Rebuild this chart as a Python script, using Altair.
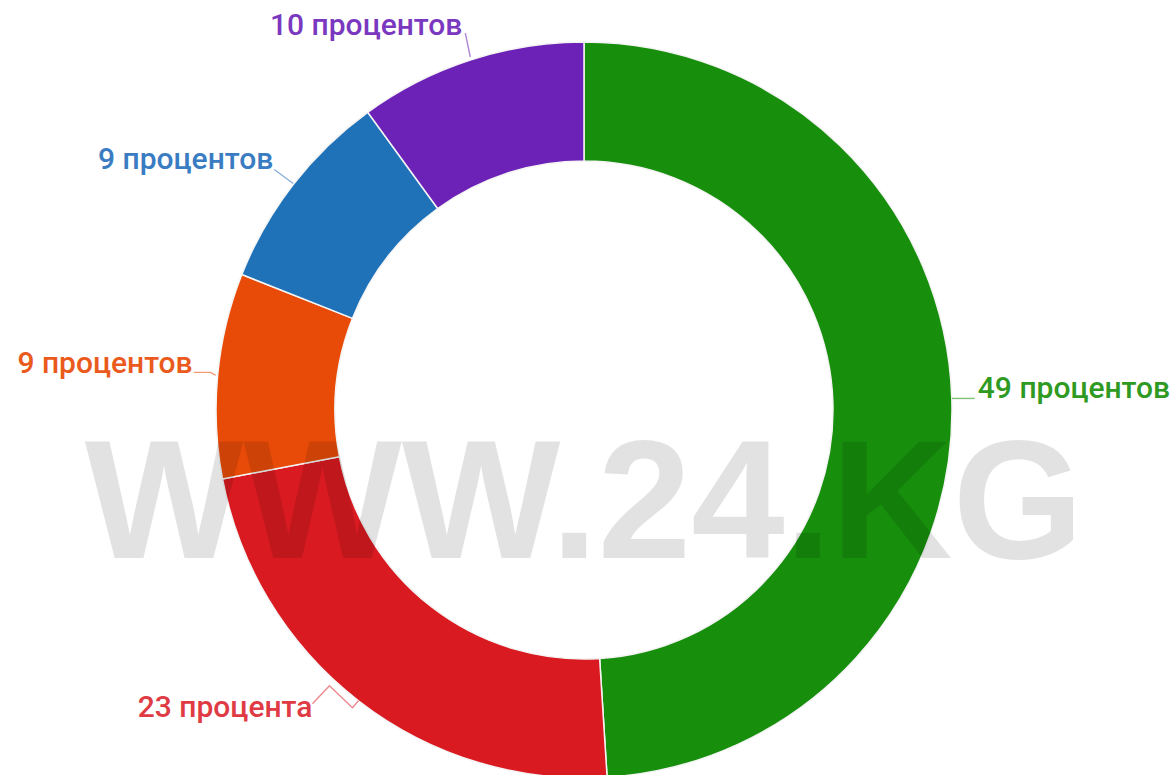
import math
import altair as alt
import pandas as pd

# ---- data ----
slices = ["green", "red", "orange", "blue", "purple"]
values = [49, 23, 9, 9, 10]
labels = ["49 процентов", "23 процента", "9 процентов", "9 процентов", "10 процентов"]
watermark = ["WWW.24.KG"]

# ---- styles / layout ----
colors = ["#178f0d", "#d91a21", "#e84b07", "#1f72b8", "#6c21b7"]
label_colors = ["#2f9a22", "#e03a44", "#ea5a1c", "#3a7cc2", "#7a38c0"]
CX, CY, R_OUT, R_IN = 584, 410, 368, 249
W, H = 1176, 775
# (dx, dy, align) of each label relative to the slice's mid point on the outer edge
label_layout = {
    "green": (26, 0, "left"),
    "red": (-46, 16, "right"),
    "orange": (-25, -2, "right"),
    "blue": (-20, -15, "right"),
    "purple": (-8, -25, "right"),
}
# leader-line shapes, as offsets from the slice's mid point on the outer edge
leader_paths = {
    "green": [(0, 0), (23, 0)],
    "red": [(0, 0), (-6, 7), (-29, -15), (-46, 3)],
    "orange": [(-2, 0), (-7, -3), (-24, -3)],
    "blue": [(0, -1), (-19, -15)],
    "purple": [(0, -3), (-5, -27)],
}

df = pd.DataFrame({"slice": slices, "value": values, "label": labels, "order": list(range(len(slices)))})
total = float(sum(values))
df["mid"] = df["value"].cumsum() - df["value"] / 2

theta_scale = alt.Scale(domain=[0, total], range=[0, 2 * math.pi])

arc = alt.Chart(df).mark_arc(
    outerRadius=R_OUT, innerRadius=R_IN, stroke="#f4f4f4", strokeWidth=1.5
).encode(
    theta=alt.Theta("value:Q", stack=True, scale=theta_scale),
    color=alt.Color("slice:N", scale=alt.Scale(domain=slices, range=colors), legend=None),
    order=alt.Order("order:Q"),
    x=alt.value(CX),
    y=alt.value(CY),
)

# leader lines computed from the slice mid angles
rows = []
for s, m in zip(df["slice"], df["mid"]):
    a = m / total * 2 * math.pi
    x0 = CX + R_OUT * math.sin(a)
    y0 = CY - R_OUT * math.cos(a)
    for k, (ox, oy) in enumerate(leader_paths[s]):
        rows.append({"slice": s, "k": k, "px": x0 + ox, "py": y0 + oy})
lines_df = pd.DataFrame(rows)

layers = [arc]
for i, s in enumerate(slices):
    ldf = lines_df[lines_df["slice"] == s]
    layers.append(
        alt.Chart(ldf).mark_line(strokeWidth=1.4, opacity=0.6, color=label_colors[i]).encode(
            x=alt.X("px:Q", scale=None),
            y=alt.Y("py:Q", scale=None),
            order="k:Q",
        )
    )
    dx, dy, al = label_layout[s]
    layers.append(
        alt.Chart(df).transform_filter(alt.datum.slice == s).mark_text(
            font="Roboto", fontSize=30, fontWeight=500, align=al, baseline="alphabetic",
            dx=dx, dy=dy, color=label_colors[i], radius=R_OUT,
        ).encode(
            theta=alt.Theta("mid:Q", stack=False, scale=theta_scale),
            text="label:N",
            x=alt.value(CX),
            y=alt.value(CY),
        )
    )

wm = alt.Chart(pd.DataFrame({"t": watermark})).mark_text(
    font="Liberation Sans", fontWeight="bold", fontSize=168, color="black", opacity=0.11,
    align="center", baseline="alphabetic",
).encode(text="t:N", x=alt.value(584), y=alt.value(558))
layers.append(wm)

chart = alt.layer(*layers).resolve_scale(theta="independent").properties(
    width=W, height=H, padding=0, autosize=alt.AutoSizeParams(type="none")
).configure_view(stroke=None)

chart.save("out.html", embed_options={"renderer": "svg", "actions": False})
